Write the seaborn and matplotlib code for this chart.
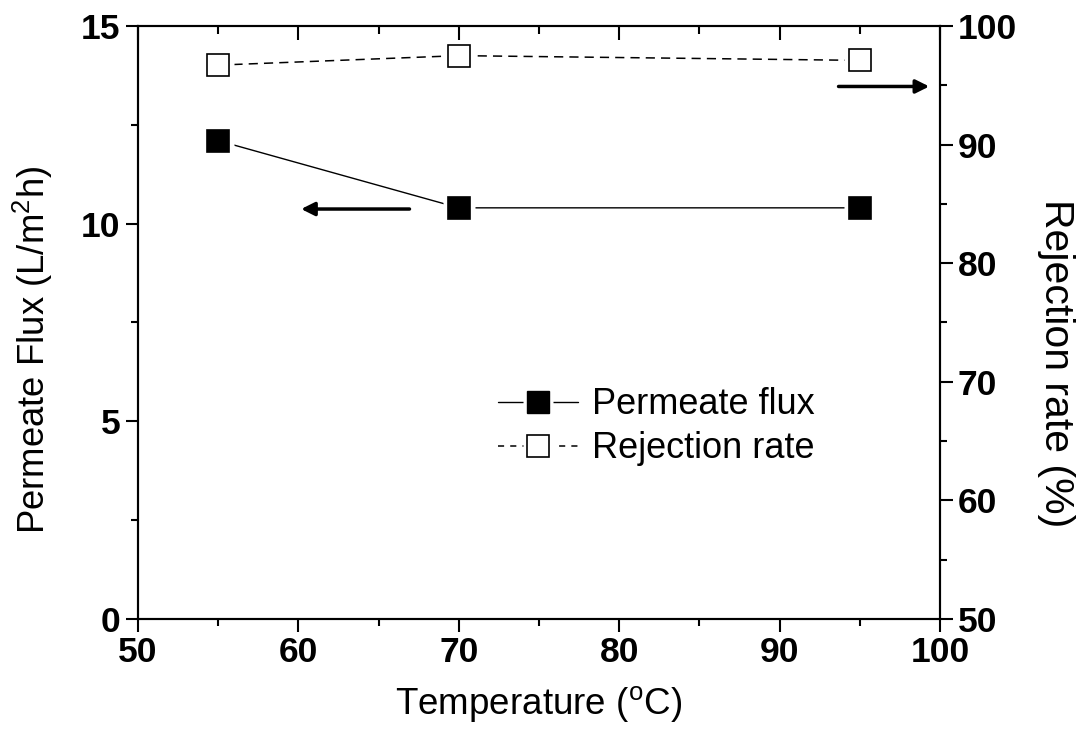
import matplotlib
matplotlib.use('Agg')
import matplotlib.pyplot as plt
import seaborn as sns
from matplotlib.lines import Line2D
from matplotlib.legend_handler import HandlerTuple
from matplotlib.ticker import MultipleLocator

temperature = [55, 70, 95]
flux = [12.1, 10.4, 10.4]
rejection = [96.7, 97.5, 97.1]

sns.set_style('ticks', {'axes.edgecolor': 'black', 'xtick.color': 'black', 'ytick.color': 'black',
                        'text.color': 'black', 'axes.labelcolor': 'black'})
plt.rcParams['font.family'] = ['Liberation Sans', 'DejaVu Sans']
plt.rcParams['mathtext.fontset'] = 'custom'
plt.rcParams['mathtext.rm'] = 'Liberation Sans'

fig = plt.figure(figsize=(10.82, 7.32), dpi=100)
ax = fig.add_axes([0.1275, 0.1544, 0.7413, 0.8101])
ax2 = ax.twinx()

ms = 15.5
# lines first, then a white halo so the line stops short of each marker
sns.lineplot(x=temperature, y=flux, ax=ax, color='black', lw=1.0, zorder=1)
ax.plot(temperature, flux, ls='none', marker='s', ms=ms + 8, mfc='white', mec='none', zorder=2)
ax.plot(temperature, flux, ls='none', marker='s', ms=ms, mfc='black', mec='black', mew=1.2, zorder=3)

sns.lineplot(x=temperature, y=rejection, ax=ax2, color='black', lw=1.1, zorder=1)
ax2.lines[-1].set_linestyle((0, (6, 4)))
ax2.plot(temperature, rejection, ls='none', marker='s', ms=ms + 8, mfc='white', mec='none', zorder=2)
ax2.plot(temperature, rejection, ls='none', marker='s', ms=ms, mfc='white', mec='black', mew=1.2, zorder=3)

ax.set_xlim(50, 100)
ax.set_ylim(0, 15)
ax2.set_ylim(50, 100)

ax.xaxis.set_major_locator(MultipleLocator(10))
ax.xaxis.set_minor_locator(MultipleLocator(5))
ax.yaxis.set_major_locator(MultipleLocator(5))
ax.yaxis.set_minor_locator(MultipleLocator(2.5))
ax2.yaxis.set_major_locator(MultipleLocator(10))
ax2.yaxis.set_minor_locator(MultipleLocator(5))

for a in (ax, ax2):
    for s in a.spines.values():
        s.set_linewidth(1.5)
        s.set_visible(True)
        s.set_color('black')

ax.tick_params(axis='x', which='both', bottom=True, top=False, direction='out', width=1.5, colors='black')
ax.tick_params(axis='x', which='major', length=9)
ax.tick_params(axis='x', which='minor', length=5)
ax.tick_params(axis='y', which='both', left=True, right=False, direction='out', width=1.5, colors='black')
ax.tick_params(axis='y', which='major', length=9)
ax.tick_params(axis='y', which='minor', length=5)
ax2.tick_params(axis='y', which='both', direction='out', width=1.5, colors='black')
ax2.tick_params(axis='y', which='major', length=9)
ax2.tick_params(axis='y', which='minor', length=5)

# inward tick marks along the top edge, at the x axis' own tick locations
xform = ax2.get_xaxis_transform()
major_locs = [v for v in ax.xaxis.get_majorticklocs() if 50 <= v <= 100]
minor_locs = [v for v in ax.xaxis.get_minorticklocs() if 50 <= v <= 100]
ax2.plot(major_locs, [1] * len(major_locs), transform=xform, ls='none', marker=3,
         ms=10, mew=1.5, color='black', clip_on=False, zorder=5)
ax2.plot(minor_locs, [1] * len(minor_locs), transform=xform, ls='none', marker=3,
         ms=6, mew=1.5, color='black', clip_on=False, zorder=5)
ax2.set_ylim(50, 100)
ax.set_xlim(50, 100)

for lab in ax.get_xticklabels() + ax.get_yticklabels() + ax2.get_yticklabels():
    lab.set_fontsize(25.5)
    lab.set_fontweight('bold')

ax.set_xlabel(r'Temperature ($^\mathregular{o}$C)', fontsize=26.5, labelpad=11)
ax.set_ylabel(r'Permeate Flux (L/m$^\mathregular{2}$h)', fontsize=26.3, labelpad=19)
ax.yaxis.label.set_y(0.454)
ax2.set_ylabel('Rejection rate (%)', fontsize=29.5, rotation=270, labelpad=42)
ax2.yaxis.label.set_y(0.432)

# direction arrows
ax.annotate('', xy=(60.0, 10.37), xytext=(67.1, 10.37),
            arrowprops=dict(arrowstyle='-|>', color='black', lw=2.5, mutation_scale=20))
ax2.annotate('', xy=(99.5, 94.9), xytext=(93.5, 94.9),
             arrowprops=dict(arrowstyle='-|>', color='black', lw=2.5, mutation_scale=20))

h1 = (Line2D([], [], color='black', lw=1.0),
      Line2D([], [], ls='none', marker='s', ms=ms + 6, mfc='white', mec='none'),
      Line2D([], [], ls='none', marker='s', ms=ms, mfc='black', mec='black'))
h2 = (Line2D([], [], color='black', lw=1.1, ls=(0, (4, 4))),
      Line2D([], [], ls='none', marker='s', ms=ms + 6, mfc='white', mec='none'),
      Line2D([], [], ls='none', marker='s', ms=ms, mfc='white', mec='black', mew=1.2))
ax2.legend([h1, h2], ['Permeate flux', 'Rejection rate'],
           handler_map={tuple: HandlerTuple(ndivide=1)},
           loc='upper left', bbox_to_anchor=(0.4315, 0.415), frameon=False,
           fontsize=26, handlelength=2.2, handletextpad=0.4, labelspacing=0.25,
           borderaxespad=0)

fig.savefig('out.png', dpi=100)
